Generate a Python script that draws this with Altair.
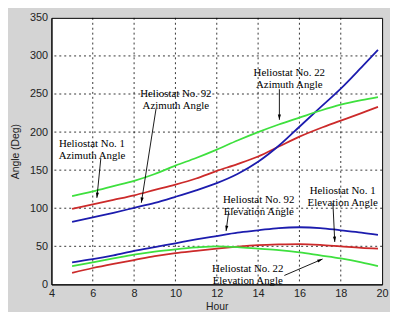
import math
import altair as alt
import pandas as pd

hours = [5, 6, 7, 8, 9, 10, 11, 12, 13, 14, 15, 16, 17, 18, 19, 19.8]

az_no1 = [99, 105, 111, 117, 124, 131, 139, 149, 158, 168, 181, 194, 205, 215, 225, 233]
az_no92 = [82, 88, 94, 100.5, 107, 115, 123.5, 133, 145, 161, 182, 207, 232, 257, 285, 308]
az_no22 = [116, 122, 129, 136, 145, 156, 166, 177, 189, 200, 210, 219, 228, 236, 242, 246]
el_no1 = [15, 21.5, 27, 32, 37, 41, 44, 47, 49.5, 51.5, 52.5, 53, 52, 50, 48, 47]
el_no92 = [29, 33, 38, 44, 49, 54, 59, 63.5, 68, 71, 74, 75, 74, 71, 68, 65]
el_no22 = [24, 29, 34, 39, 43, 46, 48.5, 50, 49, 47, 45, 42, 38, 34, 29, 24]

series_names = ["az_no1", "az_no92", "az_no22", "el_no1", "el_no92", "el_no22"]
series_values = [az_no1, az_no92, az_no22, el_no1, el_no92, el_no22]
series_colors = ["#cc2a2a", "#1c1cae", "#3ee03e", "#cc2a2a", "#1c1cae", "#3ee03e"]

label_texts = [
    "Heliostat No. 1\nAzimuth Angle",
    "Heliostat No. 92\nAzimuth Angle",
    "Heliostat No. 22\nAzimuth Angle",
    "Heliostat No. 92\nElevation Angle",
    "Heliostat No. 1\nElevation Angle",
    "Heliostat No. 22\nElevation Angle",
]
label_x = [5.96, 10.02, 15.51, 14.03, 18.09, 13.5]
label_y = [183.7, 249.7, 277.6, 111.0, 122.7, 19.5]

arrow_x0 = [6.39, 9.06, 15.03, 12.58, 17.62, 15.27]
arrow_y0 = [165.3, 230.3, 256.3, 95.9, 106.8, 11.7]
arrow_x1 = [6.20, 8.35, 15.03, 12.45, 17.71, 17.12]
arrow_y1 = [113.6, 107.2, 216.1, 70.0, 55.7, 33.3]

x_ticks = [4, 6, 8, 10, 12, 14, 16, 18, 20]
y_ticks = [0, 50, 100, 150, 200, 250, 300, 350]

W, H = 335, 270
X_DOMAIN = [4, 20]
Y_DOMAIN = [0, 350]

rows = []
for name, vals in zip(series_names, series_values):
    for h, v in zip(hours, vals):
        rows.append({"series": name, "hour": h, "angle": v})
df = pd.DataFrame(rows)

px_per_x = W / (X_DOMAIN[1] - X_DOMAIN[0])
px_per_y = H / (Y_DOMAIN[1] - Y_DOMAIN[0])
arrows = []
for x0, y0, x1, y1 in zip(arrow_x0, arrow_y0, arrow_x1, arrow_y1):
    dx = (x1 - x0) * px_per_x
    dy = -(y1 - y0) * px_per_y
    ang = math.degrees(math.atan2(dx, -dy)) % 360
    arrows.append({"x0": x0, "y0": y0, "x1": x1, "y1": y1, "ang": ang})
adf = pd.DataFrame(arrows)

ldf = pd.DataFrame({"text": label_texts, "x": label_x, "y": label_y})
gx = pd.DataFrame({"v": x_ticks[1:-1]})
gy = pd.DataFrame({"v": y_ticks[1:-1]})

xscale = alt.Scale(domain=X_DOMAIN, nice=False, zero=False)
yscale = alt.Scale(domain=Y_DOMAIN, nice=False)

common_axis = dict(
    grid=False, domainColor="black", ticks=False, labelOverlap=False, labelFlush=False,
    labelFont="Liberation Sans", labelFontSize=11, labelColor="#222",
    titleFont="Liberation Sans", titleFontSize=10.5, titleFontWeight="normal", titleColor="#222",
)
xaxis = alt.Axis(values=x_ticks, title="Hour", labelPadding=3, titlePadding=3, **common_axis)
yaxis = alt.Axis(values=y_ticks, title="Angle (Deg)", labelPadding=4, titlePadding=9, **common_axis)

grid_style = dict(color="black", strokeWidth=1, strokeDash=[2, 3], opacity=0.8)
vgrid = alt.Chart(gx).mark_rule(**grid_style).encode(
    x=alt.X("v:Q", scale=xscale, axis=xaxis),
)
hgrid = alt.Chart(gy).mark_rule(**grid_style).encode(
    y=alt.Y("v:Q", scale=yscale, axis=yaxis),
)

lines = alt.Chart(df).mark_line(strokeWidth=1.8, interpolate="monotone").encode(
    x=alt.X("hour:Q", scale=xscale, axis=xaxis),
    y=alt.Y("angle:Q", scale=yscale, axis=yaxis),
    color=alt.Color("series:N", scale=alt.Scale(domain=series_names, range=series_colors), legend=None),
    detail="series:N",
)

rules = alt.Chart(adf).mark_rule(color="black", strokeWidth=0.9).encode(
    x=alt.X("x0:Q", scale=xscale, axis=xaxis),
    y=alt.Y("y0:Q", scale=yscale, axis=yaxis),
    x2="x1:Q",
    y2="y1:Q",
)

heads = alt.Chart(adf).mark_point(
    shape="M0,0L0.5,1.7L-0.5,1.7Z", filled=True, color="black", size=40, opacity=1, strokeWidth=0
).encode(
    x=alt.X("x1:Q", scale=xscale, axis=xaxis),
    y=alt.Y("y1:Q", scale=yscale, axis=yaxis),
    angle=alt.Angle("ang:Q", scale=None),
)

texts = alt.Chart(ldf).mark_text(
    font="Liberation Serif", fontSize=11, color="black", lineBreak="\n",
    lineHeight=12, align="center", baseline="middle"
).encode(
    x=alt.X("x:Q", scale=xscale, axis=xaxis),
    y=alt.Y("y:Q", scale=yscale, axis=yaxis),
    text="text:N",
)

chart = alt.layer(vgrid, hgrid, lines, rules, heads, texts).properties(
    width=W, height=H,
    autosize="none",
    padding={"left": 44, "top": 8, "right": 8, "bottom": 26},
    background="#d4d4d4",
).configure_view(
    fill="white", stroke="black", strokeWidth=1
)

chart.save("out.html", embed_options={"renderer": "svg", "actions": False})
